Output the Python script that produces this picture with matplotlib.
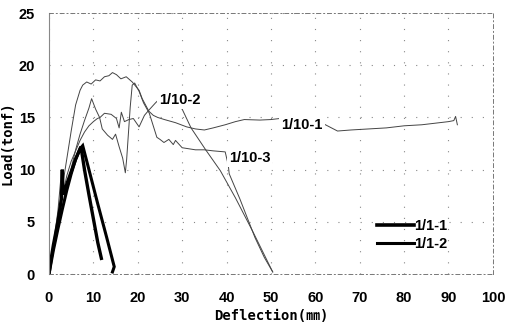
import matplotlib
matplotlib.use('Agg')
import matplotlib.pyplot as plt
from matplotlib.lines import Line2D

# load-deflection records, deflection in mm, load in tonf
x_a = [0, 1, 2, 3, 4, 5, 6, 7, 7.6, 8.5, 9.5, 10.5, 11.5, 12.5, 13.5, 14.3, 15.2, 16.2, 17.4,
       18.75, 20.3, 21.0, 22.5, 23.5, 24.5, 26, 28.5, 31, 33, 35, 37, 39.7, 42, 44, 47.5, 50,
       52, 56, 60, 65, 68, 72, 76, 80, 84, 88, 90, 91.2, 91.6, 92]
y_a = [0, 2.6, 5.4, 8.3, 11.0, 13.7, 16.2, 17.6, 18.1, 18.4, 18.2, 18.6, 18.5, 18.9, 19.0, 19.3,
       19.1, 18.7, 18.9, 18.4, 17.6, 16.8, 15.6, 15.2, 15.0, 14.8, 14.5, 14.1, 13.9, 13.8, 14.0,
       14.3, 14.6, 14.8, 14.75, 14.8, 14.9, 14.9, 14.8, 13.7, 13.8, 13.9, 14.0, 14.2, 14.3, 14.5,
       14.6, 14.7, 15.1, 14.3]

x_b = [0, 1, 2, 3, 4, 5, 6, 7, 8, 9, 9.6, 10.5, 11.4, 12.0, 13.2, 14.3, 15.0, 15.8, 16.6, 17.2,
       17.5, 17.9, 18.3, 18.75, 19.3, 20.3, 21.3, 22.6, 24.3, 25.0, 25.9, 27, 28, 28.5, 30, 33,
       35, 37, 39.7, 40.4, 40.6, 43, 46.4, 48.5, 50.4]
y_b = [0, 2.1, 4.2, 6.2, 8.2, 10.1, 11.9, 13.4, 14.7, 15.9, 16.8, 15.8, 15.0, 13.9, 13.3, 12.9,
       13.4, 12.2, 11.1, 9.7, 11.0, 13.5, 16.0, 18.1, 18.3, 17.5, 16.4, 15.4, 13.1, 12.9, 12.6,
       12.9, 12.4, 12.8, 12.1, 11.9, 11.9, 11.8, 11.7, 10.4, 9.6, 7.2, 3.5, 1.6, 0.2]

x_c = [0, 1, 2, 2.8, 3.1, 4, 5, 6, 7, 8, 9, 10, 10.9, 11.5, 12.5, 14.0, 15.2, 15.8, 16.3, 17.0,
       18, 19, 20.3, 21.5, 22.5, 24, 25.2, 27, 30, 32, 35.3, 38.6, 42, 46, 50.4]
y_c = [0, 2.9, 6.0, 9.8, 7.6, 9.4, 10.8, 11.8, 12.8, 13.6, 14.2, 14.6, 14.9, 15.0, 15.4, 15.3,
       14.9, 14.0, 15.5, 14.6, 14.8, 14.9, 14.1, 15.2, 15.7, 16.4, 16.9, 16.6, 15.8, 14.0, 11.9,
       9.9, 7.3, 4.0, 0.2]

x_d = [0, 0.5, 1, 2, 2.8, 3.0, 3.2, 4, 5, 6, 7.2, 8, 9, 10, 11, 11.8]
y_d = [0, 1.5, 2.8, 5.0, 7.2, 10.0, 7.6, 8.6, 9.8, 11.0, 12.2, 10.0, 7.6, 5.3, 3.0, 1.5]

x_e = [0, 1, 2, 3, 4, 5, 6, 7, 7.6, 9, 11, 13, 14.7, 14.3]
y_e = [0, 2.3, 4.3, 6.2, 8.0, 9.6, 11.0, 12.0, 12.3, 10.0, 6.7, 3.5, 0.7, 0.2]

curve_labels = ['1/10-1', '1/10-2', '1/10-3']
label_pos = [(52.3, 14.3), (24.9, 16.7), (40.5, 11.1)]
legend_labels = ['1/1-1', '1/1-2']

plt.rcParams['font.family'] = ['Liberation Sans', 'DejaVu Sans']
plt.rcParams['font.weight'] = 'bold'

fig = plt.figure(figsize=(5.05, 3.27), dpi=100)
ax = fig.add_axes([0.097, 0.162, 0.879, 0.798])

thin = dict(color='#444444', lw=0.7)
ax.plot(x_a, y_a, **thin)
ax.plot(x_b, y_b, **thin)
ax.plot(x_c, y_c, **thin)
ax.plot(x_d, y_d, color='black', lw=2.4, solid_joinstyle='miter')
ax.plot(x_e, y_e, color='black', lw=2.2, solid_joinstyle='miter')

for txt, (lx, ly) in zip(curve_labels, label_pos):
    ax.text(lx, ly, txt, fontsize=10.5, va='center', ha='left', zorder=5,
            bbox=dict(facecolor='white', edgecolor='none', pad=1.5))

handles = [Line2D([], [], color='black', lw=2.6), Line2D([], [], color='black', lw=2.2)]
ax.legend(handles, legend_labels, loc='upper left', bbox_to_anchor=(0.71, 0.26),
          frameon=False, handlelength=2.5, handletextpad=0.0, labelspacing=0.25,
          prop={'size': 10.5, 'weight': 'bold'})

ax.set_xlim(0, 100)
ax.set_ylim(0, 25)
ax.set_xticks(range(0, 101, 10))
ax.set_yticks(range(0, 26, 5))
ax.tick_params(length=0, labelsize=10.5)
ax.tick_params(axis='x', pad=12)
ax.tick_params(axis='y', pad=10)
ax.grid(True, color='#888888', lw=0.8, linestyle=(0, (1, 9)))

for side in ['top', 'right', 'bottom']:
    ax.spines[side].set_linestyle((0, (4, 3, 1, 3)))
    ax.spines[side].set_color('#777777')
    ax.spines[side].set_linewidth(0.7)
ax.spines['left'].set_color('#888888')
ax.spines['left'].set_linewidth(0.8)

mono = ['DejaVu Sans Mono', 'Noto Sans CJK KR']
ax.set_xlabel('Deflection(㎜)', family=mono, fontsize=10, fontweight='bold', labelpad=3)
ax.set_ylabel('Load(tonf)', family=mono, fontsize=10, fontweight='bold')
ax.yaxis.set_label_coords(-0.078, 0.5)

fig.savefig('out.png', dpi=100)
